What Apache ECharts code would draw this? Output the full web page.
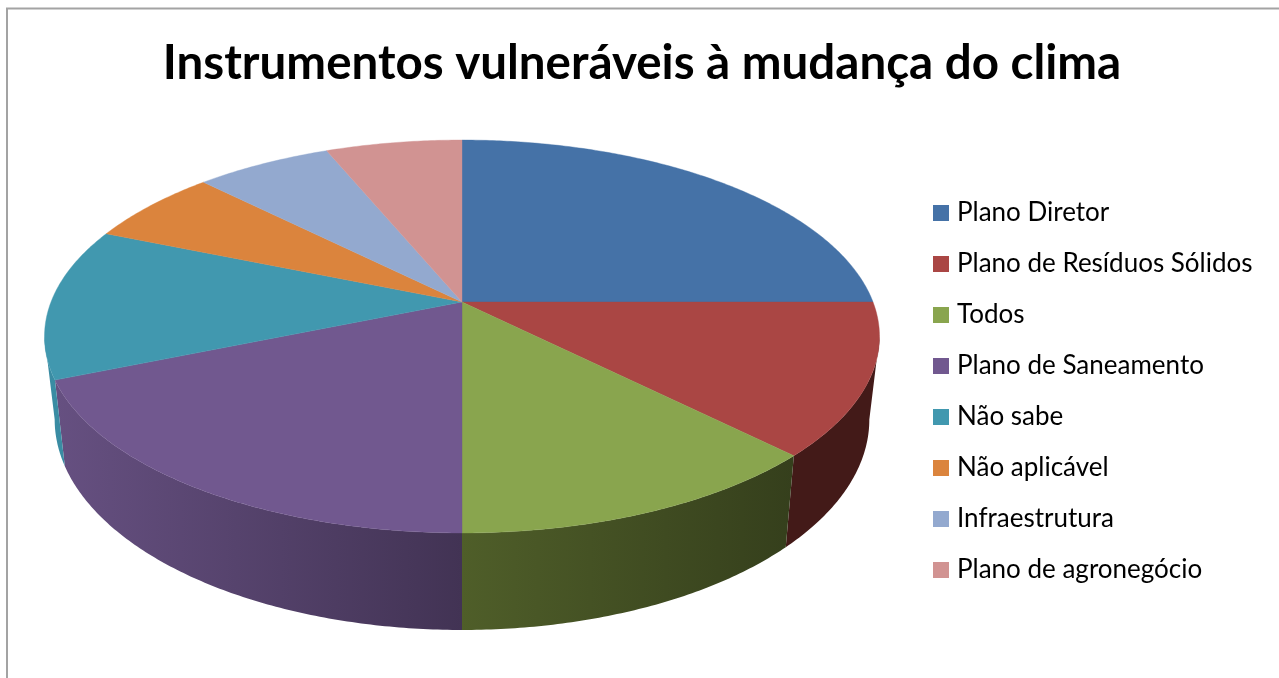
<!DOCTYPE html>
<html>
<head>
<meta charset="utf-8">
<style>html,body{margin:0;padding:0;background:#fff;overflow:hidden}#c{width:1279px;height:678px}</style>
<script src="https://cdn.jsdelivr.net/npm/echarts@6/dist/echarts.min.js"></script>
</head>
<body>
<div id="c"></div>
<script>
var categories = ['Plano Diretor','Plano de Resíduos Sólidos','Todos','Plano de Saneamento','Não sabe','Não aplicável','Infraestrutura','Plano de agronegócio'];
var shareValues = [25, 12.5, 12.5, 18.75, 12.5, 6.25, 6.25, 6.25];
var topColors = ['#4572a7','#aa4644','#89a54e','#71588f','#4198af','#db843d','#93a9cf','#d19392'];
var wallLeftColors = ['#2d4a6d','#431a18','#4f5e29','#665081','#3a8ca3','#8f5628','#60708a','#885f5f'];
var wallRightColors = ['#2d4a6d','#431a18','#353f1c','#423354','#3a8ca3','#8f5628','#60708a','#885f5f'];

// Perspective projection of the tilted disc
var persp = -0.1756;
var topRim = {cx: 462, cy: 302, a: 411, b: 190.4};
var baseRim = {cx: 462, cy: 382.5, a: 401, b: 204};
function project(rim, t) {
  var x = Math.cos(t), y = Math.sin(t), d = 1 + persp * y;
  return [rim.cx + rim.a * x / d, rim.cy + rim.b * y / d];
}
function arc(rim, t0, t1) {
  var n = Math.max(2, Math.ceil(Math.abs(t1 - t0) / 0.01)), pts = [];
  for (var i = 0; i <= n; i++) pts.push(project(rim, t0 + (t1 - t0) * i / n));
  return pts;
}
var total = shareValues.reduce(function (s, v) { return s + v; }, 0);
var startFrac = [];
shareValues.reduce(function (s, v, i) { startFrac[i] = s; return s + v; }, 0);
var frontFrom = Math.asin(-persp), frontTo = Math.PI - frontFrom;

function makeRender(i) {
  return function (params, api) {
    var t0 = -Math.PI / 2 + 2 * Math.PI * startFrac[i] / total;
    var t1 = t0 + 2 * Math.PI * api.value(0) / total;
    var children = [];
    var w0 = Math.max(t0, frontFrom), w1 = Math.min(t1, frontTo);
    if (w1 > w0) {
      var wall = arc(topRim, w0, w1).concat(arc(baseRim, w1, w0));
      children.push({
        type: 'polygon',
        shape: {points: wall},
        style: {fill: new echarts.graphic.LinearGradient(0, 0, 1, 0, [
          {offset: 0, color: wallLeftColors[i]}, {offset: 1, color: wallRightColors[i]}
        ]), stroke: null}
      });
    }
    var top = [[topRim.cx, topRim.cy]].concat(arc(topRim, t0, t1));
    children.push({
      type: 'polygon',
      shape: {points: top},
      style: {fill: topColors[i], stroke: topColors[i], lineWidth: 0.4}
    });
    return {type: 'group', children: children};
  };
}

var chart = echarts.init(document.getElementById('c'), null, {renderer: 'canvas'});
chart.setOption({
  animation: false,
  backgroundColor: '#ffffff',
  title: {
    text: 'Instrumentos vulneráveis à mudança do clima',
    left: 637, top: 35,
    textAlign: 'center',
    textStyle: {fontFamily: 'Lato', fontWeight: 'bold', fontSize: 47.5, color: '#000000'}
  },
  legend: {
    orient: 'vertical',
    left: 928, top: 195,
    itemWidth: 16, itemHeight: 16, itemGap: 25, icon: 'rect',
    selectedMode: false,
    data: categories,
    textStyle: {fontFamily: 'Lato', fontSize: 26, color: '#000000', lineHeight: 16, height: 16, padding: [0, 0, 0, 3]}
  },
  graphic: [{
    type: 'polyline',
    shape: {points: [[7, 678], [7, 8.5], [1279, 8.5]]},
    style: {stroke: '#a3a3a3', lineWidth: 2, fill: null},
    silent: true
  }],
  series: categories.map(function (name, i) {
    return {
      type: 'custom',
      name: name,
      coordinateSystem: 'none',
      silent: true,
      itemStyle: {color: topColors[i]},
      renderItem: makeRender(i),
      data: [[shareValues[i]]]
    };
  })
});
</script>
</body>
</html>
